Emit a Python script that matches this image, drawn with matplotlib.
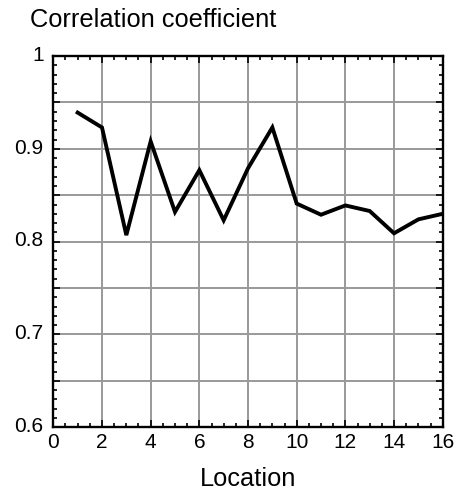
import numpy as np
import matplotlib.pyplot as plt
from matplotlib.ticker import MultipleLocator, FuncFormatter
from matplotlib.transforms import ScaledTranslation

plt.rcParams['font.family'] = ['Liberation Sans', 'DejaVu Sans']

locations = [1, 2, 3, 4, 5, 6, 7, 8, 9, 10, 11, 12, 13, 14, 15, 16]
corr = [0.939, 0.923, 0.807, 0.908, 0.832, 0.877, 0.823, 0.879,
        0.923, 0.841, 0.829, 0.839, 0.833, 0.809, 0.824, 0.830]


def fmt_y(v, pos):
    # only label every 0.1, the 0.05 lines stay unlabeled
    if abs(round(v * 10) - v * 10) > 1e-6:
        return ''
    return '%g' % round(v, 1)


fig = plt.figure(figsize=(4.58, 4.91), dpi=100)
ax = fig.add_axes([0.1164, 0.1297, 0.8502, 0.7563])

ax.plot(locations, corr, color='black', lw=2.8, solid_joinstyle='miter')

ax.set_xlim(0, 16)
ax.set_ylim(0.6, 1.0)
ax.xaxis.set_major_locator(MultipleLocator(2))
ax.xaxis.set_minor_locator(MultipleLocator(0.5))
ax.yaxis.set_major_locator(MultipleLocator(0.05))
ax.yaxis.set_minor_locator(MultipleLocator(0.01))
ax.yaxis.set_major_formatter(FuncFormatter(fmt_y))

ax.grid(True, which='major', color='#999999', lw=1.4)
ax.set_axisbelow(True)
ax.tick_params(which='both', direction='in', top=True, right=True,
               labelsize=15, width=1.2, color='black')
ax.tick_params(which='major', length=5)
ax.tick_params(which='minor', length=3)
ax.tick_params(axis='y', which='major', pad=7)
ax.tick_params(axis='x', which='major', pad=4)
for s in ax.spines.values():
    s.set_linewidth(1.7)

shift = ScaledTranslation(0, 2 / 72, fig.dpi_scale_trans)
for lbl in ax.get_yticklabels():
    lbl.set_transform(lbl.get_transform() + shift)

ax.set_xlabel('Location', fontsize=18.3, labelpad=11)
fig.text(0.066, 1 - 27 / 491, 'Correlation coefficient', fontsize=18.3,
         ha='left', va='baseline')

fig.savefig('out.png', dpi=100)
